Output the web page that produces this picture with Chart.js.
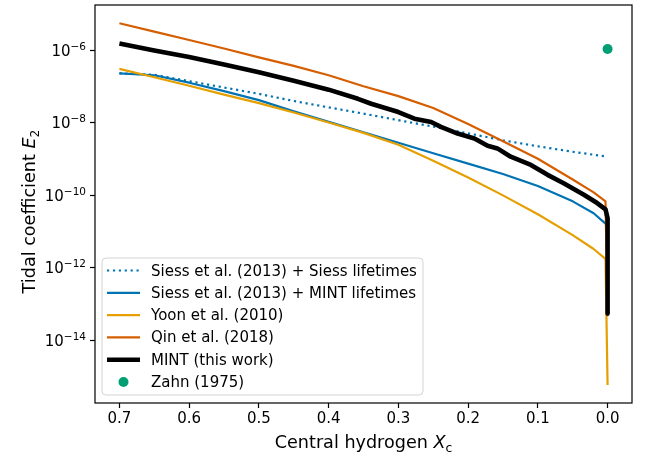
<!DOCTYPE html>
<html>
<head>
<meta charset="utf-8">
<script src="https://cdn.jsdelivr.net/npm/chart.js@4.4.1/dist/chart.umd.min.js"></script>
<style>
  html, body { margin: 0; padding: 0; background: #ffffff; }
  canvas { display: block; }
</style>
</head>
<body>
<canvas id="c" width="656" height="459"></canvas>
<script>
// ---- Data ----
const xTickValues = [0.7, 0.6, 0.5, 0.4, 0.3, 0.2, 0.1, 0.0];
const yTickExponents = [-6, -8, -10, -12, -14];

const siessSiessX = [0.7, 0.65, 0.6, 0.55, 0.5, 0.45, 0.4, 0.35, 0.3, 0.25, 0.2, 0.15, 0.1, 0.05, 0.0];
const siessSiessE = [2.34e-7, 2.13e-7, 1.42e-7, 9.51e-8, 6.35e-8, 4.03e-8, 2.69e-8, 1.80e-8, 1.19e-8, 7.92e-9, 5.15e-9, 3.32e-9, 2.27e-9, 1.60e-9, 1.17e-9];

const siessMintX = [0.7, 0.65, 0.6, 0.55, 0.5, 0.45, 0.4, 0.35, 0.3, 0.25, 0.2, 0.15, 0.1, 0.05, 0.02, 0.003, 0.0];
const siessMintE = [2.34e-7, 2.07e-7, 1.29e-7, 7.54e-8, 4.27e-8, 2.09e-8, 1.07e-8, 5.52e-9, 2.83e-9, 1.45e-9, 7.53e-10, 3.88e-10, 1.82e-10, 6.85e-11, 3.21e-11, 1.66e-11, 1.51e-11];

const yoonX = [0.7, 0.65, 0.6, 0.55, 0.5, 0.45, 0.4, 0.35, 0.3, 0.25, 0.2, 0.15, 0.1, 0.05, 0.02, 0.003, 0.0];
const yoonE = [3.11e-7, 1.82e-7, 1.06e-7, 6.04e-8, 3.53e-8, 1.94e-8, 1.03e-8, 5.32e-9, 2.49e-9, 9.10e-10, 3.11e-10, 1.0e-10, 3.01e-11, 8.02e-12, 3.32e-12, 1.77e-12, 5.85e-16];

const qinX = [0.7, 0.65, 0.6, 0.55, 0.5, 0.45, 0.4, 0.35, 0.3, 0.25, 0.2, 0.15, 0.1, 0.05, 0.02, 0.003, 0.0];
const qinE = [5.66e-6, 3.32e-6, 1.94e-6, 1.135e-6, 6.43e-7, 3.76e-7, 2.07e-7, 1.03e-7, 5.50e-8, 2.58e-8, 9.40e-9, 3.11e-9, 1.03e-9, 2.74e-10, 1.21e-10, 6.85e-11, 4.6e-14];

const mintX = [0.7, 0.65, 0.6, 0.55, 0.5, 0.45, 0.4, 0.358, 0.339, 0.300, 0.277, 0.253, 0.239, 0.215, 0.191, 0.172, 0.158, 0.139, 0.110, 0.086, 0.063, 0.034, 0.015, 0.003, 0.0, 0.0];
const mintE = [1.556e-6, 1.0e-6, 6.64e-7, 4.13e-7, 2.49e-7, 1.46e-7, 8.28e-8, 4.63e-8, 3.38e-8, 2.00e-8, 1.31e-8, 1.06e-8, 7.76e-9, 5.09e-9, 3.72e-9, 2.34e-9, 1.98e-9, 1.17e-9, 6.93e-10, 3.69e-10, 2.17e-10, 1.04e-10, 6.15e-11, 4.13e-11, 2.34e-11, 5.5e-14];

const zahnX = [0.0];
const zahnE = [1.1e-6];

const seriesLabels = [
  'Siess et al. (2013) + Siess lifetimes',
  'Siess et al. (2013) + MINT lifetimes',
  'Yoon et al. (2010)',
  'Qin et al. (2018)',
  'MINT (this work)',
  'Zahn (1975)'
];

const BLUE = '#0173b2', YELLOW = '#e69f00', VERM = '#d55e00', GREEN = '#029e73';
const FONT = "'DejaVu Sans', sans-serif";

function pts(xs, ys) { return xs.map((x, i) => ({ x: x, y: ys[i] })); }

const datasets = [
  { label: seriesLabels[0], data: pts(siessSiessX, siessSiessE), borderColor: BLUE, borderWidth: 2.2,
    borderDash: [2.2, 3.7], borderCapStyle: 'butt', pointRadius: 0, fill: false, order: 6 },
  { label: seriesLabels[1], data: pts(siessMintX, siessMintE), borderColor: BLUE, borderWidth: 2.2,
    pointRadius: 0, fill: false, order: 5 },
  { label: seriesLabels[2], data: pts(yoonX, yoonE), borderColor: YELLOW, borderWidth: 2.2,
    pointRadius: 0, fill: false, order: 4 },
  { label: seriesLabels[3], data: pts(qinX, qinE), borderColor: VERM, borderWidth: 2.2,
    pointRadius: 0, fill: false, order: 3 },
  { label: seriesLabels[4], data: pts(mintX, mintE), borderColor: '#000000', borderWidth: 4.6,
    pointRadius: 0, fill: false, order: 1 },
  { label: seriesLabels[5], data: pts(zahnX, zahnE), showLine: false, backgroundColor: GREEN,
    borderColor: GREEN, pointRadius: 5, pointBorderWidth: 0, order: 0 }
];

function drawMixed(ctx, parts, x, y, size) {
  let cx = x;
  for (const p of parts) {
    const s = p.sub ? size * 0.7 : size;
    ctx.font = (p.italic ? 'oblique ' : '') + s + 'px ' + FONT;
    ctx.fillText(p.t, cx, y + (p.sub ? size * 0.22 : 0));
    cx += ctx.measureText(p.t).width;
  }
}
function mixedWidth(ctx, parts, size) {
  let w = 0;
  for (const p of parts) {
    const s = p.sub ? size * 0.7 : size;
    ctx.font = (p.italic ? 'oblique ' : '') + s + 'px ' + FONT;
    w += ctx.measureText(p.t).width;
  }
  return w;
}

const decorPlugin = {
  id: 'decor',
  afterDraw(chart) {
    const ctx = chart.ctx;
    const a = chart.chartArea;
    const ys = chart.scales.y;
    ctx.save();
    // frame (all four spines)
    ctx.strokeStyle = '#000';
    ctx.lineWidth = 1.2;
    ctx.strokeRect(a.left, a.top, a.right - a.left, a.bottom - a.top);

    // y tick labels as 10^n
    ctx.fillStyle = '#000';
    ctx.textBaseline = 'alphabetic';
    ctx.textAlign = 'left';
    for (const t of ys.ticks) {
      const e = Math.round(Math.log10(t.value));
      const py = ys.getPixelForValue(t.value);
      const base = '10', sup = '\u2212' + Math.abs(e);
      ctx.font = '15px ' + FONT;
      const wb = ctx.measureText(base).width;
      ctx.font = '10.5px ' + FONT;
      const ws = ctx.measureText(sup).width;
      const right = a.left - 9;
      const x0 = right - wb - ws;
      ctx.font = '15px ' + FONT;
      ctx.fillText(base, x0, py + 5.5);
      ctx.font = '10.5px ' + FONT;
      ctx.fillText(sup, x0 + wb, py - 0.5);
    }

    // axis titles
    const LS = 17.6;
    const xParts = [{ t: 'Central hydrogen ' }, { t: 'X', italic: true }, { t: 'c', sub: true }];
    const xw = mixedWidth(ctx, xParts, LS);
    drawMixed(ctx, xParts, (a.left + a.right) / 2 - xw / 2, 448, LS);

    const yParts = [{ t: 'Tidal coefficient ' }, { t: 'E', italic: true }, { t: '2', sub: true }];
    const yw = mixedWidth(ctx, yParts, LS);
    ctx.save();
    ctx.translate(35, 211.5);
    ctx.rotate(-Math.PI / 2);
    drawMixed(ctx, yParts, -yw / 2, 0, LS);
    ctx.restore();

    // legend
    const L = 102, T = 258, R = 423, B = 395, rad = 4;
    ctx.beginPath();
    ctx.moveTo(L + rad, T);
    ctx.lineTo(R - rad, T); ctx.quadraticCurveTo(R, T, R, T + rad);
    ctx.lineTo(R, B - rad); ctx.quadraticCurveTo(R, B, R - rad, B);
    ctx.lineTo(L + rad, B); ctx.quadraticCurveTo(L, B, L, B - rad);
    ctx.lineTo(L, T + rad); ctx.quadraticCurveTo(L, T, L + rad, T);
    ctx.closePath();
    ctx.fillStyle = 'rgba(255,255,255,0.8)';
    ctx.fill();
    ctx.strokeStyle = '#d4d4d4';
    ctx.lineWidth = 1;
    ctx.stroke();

    chart.data.datasets.forEach((ds, i) => {
      const ry = 270.5 + i * 22.3;
      if (ds.showLine === false) {
        ctx.fillStyle = ds.backgroundColor;
        ctx.beginPath();
        ctx.arc(123.5, ry, 5, 0, Math.PI * 2);
        ctx.fill();
      } else {
        ctx.strokeStyle = ds.borderColor;
        ctx.lineWidth = ds.borderWidth;
        ctx.lineCap = 'butt';
        ctx.setLineDash(ds.borderDash || []);
        ctx.beginPath();
        ctx.moveTo(107, ry);
        ctx.lineTo(140, ry);
        ctx.stroke();
        ctx.setLineDash([]);
      }
      ctx.fillStyle = '#000';
      ctx.font = '15px ' + FONT;
      ctx.textAlign = 'left';
      ctx.fillText(ds.label, 151, ry + 5);
    });
    ctx.restore();
  }
};

new Chart(document.getElementById('c'), {
  type: 'line',
  data: { datasets: datasets },
  options: {
    responsive: false,
    devicePixelRatio: 1,
    animation: false,
    layout: { padding: { left: 0, right: 24, top: 3, bottom: 0 } },
    plugins: { legend: { display: false }, tooltip: { enabled: false } },
    elements: { line: { tension: 0, borderJoinStyle: 'round' } },
    scales: {
      x: {
        type: 'linear',
        reverse: true,
        min: -0.035,
        max: 0.735,
        afterBuildTicks: s => { s.ticks = xTickValues.map(v => ({ value: v })); },
        afterFit: s => { s.height = 56; },
        grid: { drawOnChartArea: false, drawTicks: true, tickLength: 5, tickWidth: 1.2, tickColor: '#000' },
        border: { display: false },
        ticks: { color: '#000', font: { family: FONT, size: 15 }, padding: 2, maxRotation: 0,
                 callback: v => Number(v).toFixed(1) }
      },
      y: {
        type: 'logarithmic',
        min: Math.pow(10, -15.73),
        max: Math.pow(10, -4.745),
        afterBuildTicks: s => { s.ticks = yTickExponents.map(e => ({ value: Math.pow(10, e) })); },
        afterFit: s => { s.width = 95; },
        grid: { drawOnChartArea: false, drawTicks: true, tickLength: 5, tickWidth: 1.2, tickColor: '#000' },
        border: { display: false },
        ticks: { display: false }
      }
    }
  },
  plugins: [decorPlugin]
});
</script>
</body>
</html>
